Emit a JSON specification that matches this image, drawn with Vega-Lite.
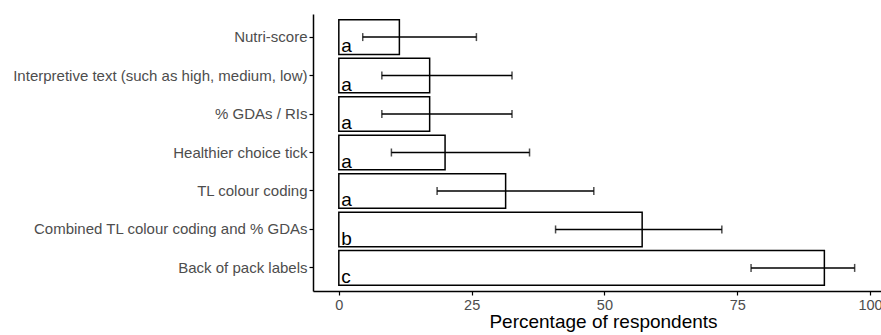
{
  "$schema": "https://vega.github.io/schema/vega-lite/v6.json",
  "width": 568,
  "height": 277,
  "autosize": {"type": "none"},
  "padding": {"left": 313, "top": 14, "right": 0, "bottom": 44},
  "background": "white",
  "config": {
    "view": {"stroke": null},
    "font": "Liberation Sans",
    "axis": {
      "grid": false,
      "domainColor": "black",
      "domainWidth": 1.5,
      "tickColor": "black",
      "tickWidth": 1.2,
      "tickSize": 4,
      "labelColor": "#4D4D4D",
      "labelFontSize": 15,
      "labelLimit": 0,
      "labelFont": "Liberation Sans",
      "titleFont": "Liberation Sans",
      "titleFontWeight": "normal",
      "titleColor": "black"
    }
  },
  "data": {
    "values": [
      {"label": "Nutri-score", "pct": 11.4, "lo": 4.5, "hi": 25.9, "grp": "a"},
      {"label": "Interpretive text (such as high, medium, low)", "pct": 17.1, "lo": 8.1, "hi": 32.6, "grp": "a"},
      {"label": "% GDAs / RIs", "pct": 17.1, "lo": 8.1, "hi": 32.6, "grp": "a"},
      {"label": "Healthier choice tick", "pct": 20.0, "lo": 9.9, "hi": 35.9, "grp": "a"},
      {"label": "TL colour coding", "pct": 31.4, "lo": 18.5, "hi": 48.0, "grp": "a"},
      {"label": "Combined TL colour coding and % GDAs", "pct": 57.1, "lo": 40.8, "hi": 72.1, "grp": "b"},
      {"label": "Back of pack labels", "pct": 91.4, "lo": 77.6, "hi": 97.1, "grp": "c"}
    ]
  },
  "encoding": {
    "y": {
      "field": "label",
      "type": "nominal",
      "sort": null,
      "scale": {"paddingInner": 0.1, "paddingOuter": 0.15},
      "axis": {"title": null, "labelPadding": 2}
    }
  },
  "layer": [
    {
      "mark": {"type": "bar", "fill": "white", "stroke": "black", "strokeWidth": 1.5},
      "encoding": {
        "x": {
          "field": "pct",
          "type": "quantitative",
          "scale": {"domain": [-4.86, 102.06], "nice": false, "zero": false},
          "axis": {
            "values": [0, 25, 50, 75, 100],
            "title": "Percentage of respondents",
            "titleFontSize": 19,
            "titlePadding": 1,
            "titleX": 290,
            "labelFontSize": 14.5,
            "labelPadding": 3
          }
        }
      }
    },
    {
      "mark": {"type": "rule", "color": "black", "strokeWidth": 1.5},
      "encoding": {
        "x": {"field": "lo", "type": "quantitative"},
        "x2": {"field": "hi"}
      }
    },
    {
      "mark": {"type": "tick", "color": "black", "thickness": 1.5, "size": 8, "orient": "vertical"},
      "encoding": {
        "x": {"field": "lo", "type": "quantitative"}
      }
    },
    {
      "mark": {"type": "tick", "color": "black", "thickness": 1.5, "size": 8, "orient": "vertical"},
      "encoding": {
        "x": {"field": "hi", "type": "quantitative"}
      }
    },
    {
      "mark": {"type": "text", "align": "left", "baseline": "alphabetic", "fontSize": 19, "color": "black", "dx": 2.5, "dy": -2, "font": "Liberation Sans"},
      "encoding": {
        "x": {"datum": 0, "type": "quantitative"},
        "y": {"field": "label", "type": "nominal", "sort": null, "bandPosition": 1},
        "text": {"field": "grp"}
      }
    }
  ]
}
